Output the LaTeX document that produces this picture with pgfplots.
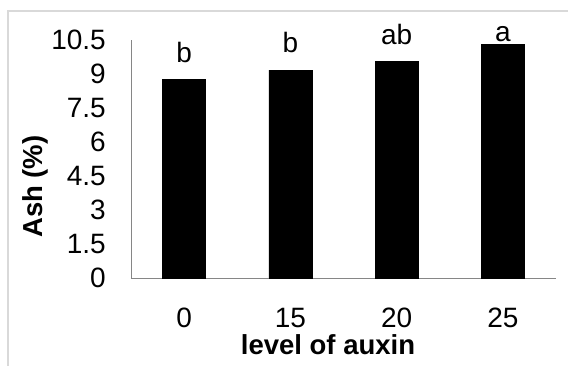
\documentclass[border=0pt]{standalone}
\usepackage{fontspec}
\setmainfont{Liberation Sans}
\usepackage{pgfplots}
\pgfplotsset{compat=1.18}
\begin{document}
\begin{tikzpicture}[x=1pt,y=1pt]
\useasboundingbox (0,0) rectangle (568,365);
\draw[color={rgb,255:red,217;green,217;blue,217}, line width=2pt] (8,-2) -- (8,354) -- (570,354);
\begin{axis}[
  at={(131pt,87pt)}, anchor=south west,
  scale only axis, width=425pt, height=238pt,
  xmin=-0.5, xmax=3.5, ymin=0, ymax=10.5,
  axis x line*=bottom, axis y line*=left,
  axis line style={color={rgb,255:red,134;green,134;blue,134}, line width=0.8pt},
  xtick={0,1,2,3}, xticklabels={0,15,20,25},
  ytick={0,1.5,3,4.5,6,7.5,9,10.5},
  yticklabels={0,1.5,3,4.5,6,7.5,9,10.5},
  major tick length=0pt,
  /pgf/number format/assume math mode=true,
  tick label style={font=\fontsize{28}{32}\selectfont, text=black, inner sep=0pt},
  yticklabel style={anchor=east, xshift=-25pt},
  xticklabel style={anchor=north, yshift=-30pt},
  clip=false,
]
\addplot[ybar, bar width=43pt, fill=black, draw=black] coordinates {(0,8.77) (1,9.17) (2,9.56) (3,10.31)};
\node[anchor=base, font=\fontsize{28}{32}\selectfont] at (axis cs:0,9.50) {b};
\node[anchor=base, font=\fontsize{28}{32}\selectfont] at (axis cs:1,9.94) {b};
\node[anchor=base, font=\fontsize{28}{32}\selectfont] at (axis cs:2,10.28) {ab};
\node[anchor=base, font=\fontsize{28}{32}\selectfont] at (axis cs:3,10.42) {a};
\node[anchor=base, font=\bfseries\fontsize{27.5}{32}\selectfont, inner sep=0pt] at ([yshift=-76pt]rel axis cs:0.4635,0) {level of auxin};
\node[anchor=base, rotate=90, font=\bfseries\fontsize{27.5}{32}\selectfont, inner sep=0pt] at ([xshift=-88pt]rel axis cs:0,0.384) {Ash (\%)};
\end{axis}
\end{tikzpicture}
\end{document}
